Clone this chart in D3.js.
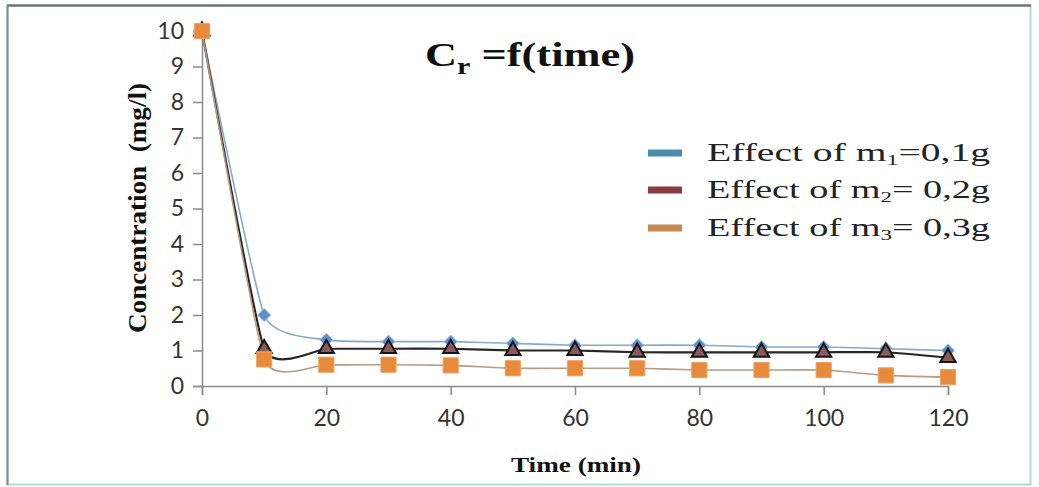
<!DOCTYPE html>
<html>
<head>
<meta charset="utf-8">
<script src="https://cdn.jsdelivr.net/npm/d3@7"></script>
<style>
  body { margin: 0; background: #fff; }
</style>
</head>
<body>
<svg id="chart" width="1039" height="487"></svg>
<script>
// data
const times = [0, 10, 20, 30, 40, 50, 60, 70, 80, 90, 100, 110, 120];
const m1 = [10, 2.0, 1.3, 1.25, 1.25, 1.2, 1.15, 1.15, 1.15, 1.1, 1.1, 1.05, 1.0];
const m2 = [10, 1.05, 1.05, 1.05, 1.05, 1.0, 1.0, 0.95, 0.95, 0.95, 0.95, 0.95, 0.8];
const m3 = [10, 0.75, 0.6, 0.6, 0.58, 0.5, 0.5, 0.5, 0.45, 0.45, 0.45, 0.3, 0.25];
const legendMass = ["0,1g", "0,2g", "0,3g"];
const legendSub = ["1", "2", "3"];
const xTicks = [0, 20, 40, 60, 80, 100, 120];
const yTicks = [0, 1, 2, 3, 4, 5, 6, 7, 8, 9, 10];

const svg = d3.select("#chart");
const serif = "'Liberation Serif', 'Times New Roman', serif";
const sans = "Lato, 'Open Sans', sans-serif";

const x = d3.scaleLinear().domain([0, 120]).range([202, 948]);
const y = d3.scaleLinear().domain([0, 10]).range([386, 31]);

// frame
svg.append("rect")
  .attr("x", 7.5).attr("y", 5.5).attr("width", 1023).attr("height", 479)
  .attr("fill", "#fff").attr("stroke", "#b7d6e4").attr("stroke-width", 2);
svg.append("line").attr("x1", 7).attr("x2", 1031).attr("y1", 5.5).attr("y2", 5.5)
  .attr("stroke", "#6f777b").attr("stroke-width", 2.5);
svg.append("line").attr("x1", 7.5).attr("x2", 7.5).attr("y1", 5).attr("y2", 485)
  .attr("stroke", "#7b8c93").attr("stroke-width", 2);

// axes
const yAxis = d3.axisLeft(y).tickValues(yTicks).tickSize(9).tickPadding(9);
const gy = svg.append("g").attr("transform", "translate(202,0)").call(yAxis);
const xAxis = d3.axisBottom(x).tickValues(xTicks).tickSize(9).tickPadding(15);
const gx = svg.append("g").attr("transform", "translate(0,386)").call(xAxis);

[gx, gy].forEach(g => {
  g.select(".domain").attr("stroke", "#8a8a8a").attr("stroke-width", 1.5);
  g.selectAll(".tick line").attr("stroke", "#8a8a8a").attr("stroke-width", 1.5);
  g.selectAll(".tick text")
    .attr("fill", "#333")
    .style("font-family", sans)
    .style("font-size", "23px");
});

// series
const series = [
  { vals: m1, line: "#87a9c8", lw: 1.6, type: d3.symbolDiamond2 || d3.symbolDiamond, size: 110, fill: "#5d90c8", stroke: "#9fbfe0", sw: 1 },
  { vals: m2, line: "#262626", lw: 2.2, type: d3.symbolTriangle, size: 100, fill: "#8a5a5c", stroke: "#151515", sw: 2 },
  { vals: m3, line: "#b89c84", lw: 1.6, type: d3.symbolSquare, size: 230, fill: "#e88a3c", stroke: "#f0a060", sw: 1 }
];

// excel-like smoothing, less overshoot than plain catmull-rom
const lineGen = d3.line()
  .x(d => x(d[0]))
  .y(d => y(d[1]))
  .curve(d3.curveCardinal.tension(0.55));

series.forEach(s => {
  const pts = times.map((t, i) => [t, s.vals[i]]);
  svg.append("path")
    .datum(pts)
    .attr("fill", "none")
    .attr("stroke", s.line)
    .attr("stroke-width", s.lw)
    .attr("d", lineGen);
});

series.forEach(s => {
  const pts = times.map((t, i) => [t, s.vals[i]]);
  svg.append("g").selectAll("path")
    .data(pts)
    .enter()
    .append("path")
    .attr("transform", d => `translate(${x(d[0])},${y(d[1])})`)
    .attr("d", d3.symbol().type(s.type).size(s.size))
    .attr("fill", s.fill)
    .attr("stroke", s.stroke)
    .attr("stroke-width", s.sw);
});

// title (picture is stretched sideways, so text is widened with textLength)
const title = svg.append("text")
  .attr("x", 425).attr("y", 66)
  .attr("textLength", 210).attr("lengthAdjust", "spacingAndGlyphs")
  .style("font-family", serif).style("font-weight", "bold")
  .style("font-size", "34px").attr("fill", "#111");
title.append("tspan").text("C");
title.append("tspan").attr("dy", 8).style("font-size", "23px").text("r");
title.append("tspan").attr("dy", -8).text(" =f(time)");

// axis titles
svg.append("text")
  .attr("x", 576).attr("y", 472)
  .attr("text-anchor", "middle")
  .attr("textLength", 130).attr("lengthAdjust", "spacingAndGlyphs")
  .style("font-family", serif).style("font-weight", "bold").style("font-size", "22px")
  .attr("fill", "#111")
  .text("Time (min)");

svg.append("text")
  .attr("transform", "translate(146,208) rotate(-90)")
  .attr("text-anchor", "middle")
  .attr("textLength", 250).attr("lengthAdjust", "spacingAndGlyphs")
  .style("font-family", serif).style("font-weight", "bold").style("font-size", "25px")
  .attr("fill", "#111")
  .attr("xml:space", "preserve")
  .text("Concentration  (mg/l)");

// legend
const legendColors = ["#4b8cab", "#8b3a3f", "#c98a52"];
const legRowY = [153, 190, 228];
legendColors.forEach((c, i) => {
  svg.append("line")
    .attr("x1", 648).attr("x2", 682)
    .attr("y1", legRowY[i]).attr("y2", legRowY[i])
    .attr("stroke", c).attr("stroke-width", 7);
  const t = svg.append("text")
    .attr("x", 707).attr("y", legRowY[i] + 8)
    .attr("textLength", 283).attr("lengthAdjust", "spacingAndGlyphs")
    .style("font-family", serif).style("font-size", "25px")
    .attr("fill", "#222");
  t.append("tspan").text("Effect of m");
  t.append("tspan").attr("dy", 4).style("font-size", "15px").text(legendSub[i]);
  t.append("tspan").attr("dy", -4).text((i === 0 ? "=" : "= ") + legendMass[i]);
});
</script>
</body>
</html>
